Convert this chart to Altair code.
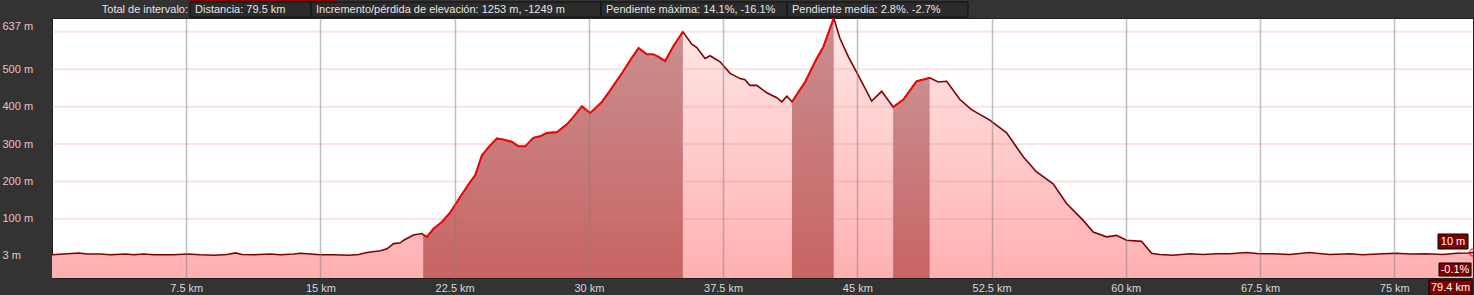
import altair as alt
import pandas as pd

# ---- data ----
km = [0.0, 0.66, 1.5, 1.97, 2.71, 3.27, 4.11, 4.57, 5.13, 5.69, 6.81, 7.55, 8.3, 9.04, 9.79,
      10.25, 10.62, 11.27, 12.2, 12.76, 13.51, 13.88, 14.44, 15.0, 15.74, 16.58, 17.14, 17.6,
      18.35, 18.72, 19.09, 19.46, 19.65, 20.2, 20.67, 20.74, 20.95, 21.32, 21.79, 22.26, 22.81,
      23.37, 23.65, 24.02, 24.4, 24.86, 25.23, 25.7, 26.07, 26.44, 26.9, 27.28, 27.65, 28.21,
      28.77, 29.14, 29.61, 30.07, 30.73, 31.19, 31.84, 32.31, 32.77, 33.24, 33.61, 33.89, 34.26,
      34.72, 35.25, 35.75, 36.03, 36.49, 36.77, 37.33, 37.89, 38.45, 38.72, 39.0, 39.38, 39.94,
      40.5, 40.78, 41.06, 41.35, 42.08, 42.73, 43.1, 43.68, 44.03, 44.5, 45.15, 45.8, 46.36,
      47.0, 47.57, 48.31, 49.04, 49.52, 49.99, 50.73, 51.38, 52.4, 53.34, 54.27, 55.0, 55.94,
      56.69, 57.62, 58.18, 58.92, 59.48, 60.04, 60.88, 61.44, 61.9, 62.64, 63.57, 64.32, 65.06,
      65.81, 66.74, 67.48, 68.22, 69.16, 70.27, 70.65, 71.39, 72.51, 73.25, 74.37, 75.11, 75.86,
      76.79, 77.72, 78.47, 79.11, 79.4]
elev = [4, 6, 9, 6, 6, 4, 6, 4, 6, 4, 4, 6, 4, 3, 5,
        9, 5, 4, 6, 4, 6, 8, 6, 4, 4, 3, 5, 10,
        15, 20, 34, 36, 43, 57, 61, 58, 52, 74, 92, 118, 159,
        199, 217, 270, 292, 315, 312, 306, 294, 294, 317, 321, 330, 332,
        353, 373, 401, 383, 413, 444, 489, 524, 557, 540, 540, 533, 522,
        562, 600, 567, 558, 529, 536, 520, 489, 475, 472, 457, 457, 437,
        424, 413, 428, 413, 466, 529, 560, 637, 582, 533, 475, 415, 441,
        399, 419, 468, 477, 466, 468, 419, 392, 364, 330, 266, 226, 194,
        141, 96, 65, 52, 56, 43, 40, 8, 5, 3, 7, 5, 7,
        7, 10, 7, 7, 5, 10, 8, 5, 7, 4, 7, 8, 6,
        7, 5, 8, 9, 10]

sel_start = [20.74, 41.35, 47.0]
sel_end = [35.25, 43.68, 49.04]

x_ticks = [7.5, 15, 22.5, 30, 37.5, 45, 52.5, 60, 67.5, 75]
y_labels = [3, 100, 200, 300, 400, 500, 637]
y_grid = [100, 200, 300, 400, 500, 600]

header_lead = "Total de intervalo:"
header_items = ["Distancia: 79.5 km",
                "Incremento/pérdida de elevación: 1253 m, -1249 m",
                "Pendiente máxima: 14.1%, -16.1%",
                "Pendiente media: 2.8%. -2.7%"]
cursor_elev = "10 m"
cursor_slope = "-0.1%"
cursor_km = "79.4 km"

Y_MIN, Y_MAX = -58, 637
X_MAX = 79.4
FONT = "Liberation Sans"

df = pd.DataFrame({"km": km, "elev": elev})
df["base"] = Y_MIN

rows = []
for i, (a, b) in enumerate(zip(sel_start, sel_end)):
    for k, e in zip(km, elev):
        if a - 1e-9 <= k <= b + 1e-9:
            rows.append({"km": k, "elev": e, "seg": i, "base": Y_MIN})
seg_df = pd.DataFrame(rows)

xs = alt.Scale(domain=[0, X_MAX], nice=False, zero=False)
ys = alt.Scale(domain=[Y_MIN, Y_MAX], nice=False, zero=False)

light_grad = alt.Gradient(gradient="linear", x1=0, y1=0, x2=0, y2=1,
                          stops=[alt.GradientStop(color="#ffe8e8", offset=0),
                                 alt.GradientStop(color="#ffb0b0", offset=1)])
dark_grad = alt.Gradient(gradient="linear", x1=0, y1=0, x2=0, y2=1,
                         stops=[alt.GradientStop(color="#c98e8e", offset=0),
                                alt.GradientStop(color="#c86464", offset=1)])

x_axis = alt.Axis(values=x_ticks, labelExpr="datum.value + ' km'", title=None,
                  grid=True, gridColor="#808080", gridOpacity=0.5, gridWidth=1.5,
                  ticks=False, domain=False, labelColor="#d8d8d8", labelFont=FONT,
                  labelFontSize=11, labelPadding=4, labelOverlap=False, zindex=1)
y_axis = alt.Axis(values=y_labels, labelExpr="datum.value + ' m'", title=None,
                  grid=False, ticks=False, domain=False, labelColor="#f2c0c0",
                  labelFont=FONT, labelFontSize=11, labelAlign="left", labelPadding=50,
                  labelBaseline={"condition": {"test": "datum.value == 637", "value": "top"},
                                 "value": "middle"},
                  labelOffset={"condition": {"test": "datum.value == 637", "value": 2},
                               "value": 0})

light_area = alt.Chart(df).mark_area(color=light_grad).encode(
    x=alt.X("km:Q", scale=xs, axis=x_axis),
    y=alt.Y("elev:Q", scale=ys, axis=y_axis),
    y2=alt.Y2("base:Q"),
)
dark_area = alt.Chart(seg_df).mark_area(color=dark_grad).encode(
    x=alt.X("km:Q", scale=xs), y=alt.Y("elev:Q", scale=ys), y2="base:Q",
    detail="seg:N",
)
grid_df = pd.DataFrame({"g": y_grid})
hgrid = alt.Chart(grid_df).mark_rule(color="#e67878", opacity=0.2, strokeWidth=2).encode(
    y=alt.Y("g:Q", scale=ys)
)
dark_line = alt.Chart(df).mark_line(color="#800000", strokeWidth=1.6).encode(
    x=alt.X("km:Q", scale=xs), y=alt.Y("elev:Q", scale=ys)
)
red_line = alt.Chart(seg_df).mark_line(color="#ff0000", strokeWidth=1.8).encode(
    x=alt.X("km:Q", scale=xs), y=alt.Y("elev:Q", scale=ys), detail="seg:N"
)
end_pt = alt.Chart(df.tail(1)).mark_point(color="#ff0000", size=50, strokeWidth=1.5,
                                          filled=False).encode(
    x=alt.X("km:Q", scale=xs), y=alt.Y("elev:Q", scale=ys)
)

one = pd.DataFrame({"t": [""]})


def box(x0, x1, y0, y1, text, fill, stroke, tcolor, align="left", tx=None):
    r = alt.Chart(one).mark_rect(fill=fill, stroke=stroke, strokeWidth=1).encode(
        x=alt.value(x0), x2=alt.value(x1), y=alt.value(y0), y2=alt.value(y1))
    t = alt.Chart(pd.DataFrame({"t": [text]})).mark_text(
        align=align, baseline="middle", font=FONT, fontSize=11, color=tcolor).encode(
        text="t:N", x=alt.value(tx if tx is not None else x0 + 5),
        y=alt.value((y0 + y1) / 2 + 0.5))
    return [r, t]


annots = []
# header (plot origin at x=52, y=18)
lead = alt.Chart(pd.DataFrame({"t": [header_lead]})).mark_text(
    align="right", baseline="middle", font=FONT, fontSize=11, color="#e6e6e6").encode(
    text="t:N", x=alt.value(136), y=alt.value(-8))
annots.append(lead)
red_bar = alt.Chart(one).mark_rect(fill="#8b0000").encode(
    x=alt.value(138), x2=alt.value(286), y=alt.value(-18), y2=alt.value(-16))
annots.append(red_bar)
bounds = [(138, 259), (259, 549), (549, 735), (735, 916)]
for (a, b), txt in zip(bounds, header_items):
    annots += box(a, b, -16, -1, txt, "#2b2b2b", "#111111", "#e6e6e6")
# cursor readouts
annots += box(1386, 1416, 216, 231, cursor_elev, "#800000", "#000000", "#ffffff",
              align="center", tx=1401)
annots += box(1387, 1419, 245, 258, cursor_slope, "#800000", "#000000", "#ffffff",
              align="center", tx=1403)
annots += box(1377, 1420, 262, 277, cursor_km, "#800000", "#000000", "#ffffff",
              align="center", tx=1398.5)

chart = alt.layer(light_area, dark_area, hgrid, dark_line, red_line, end_pt, *annots).properties(
    width=1421, height=260,
    padding={"left": 52, "top": 18, "right": 1, "bottom": 17},
    autosize="none", background="#333333",
).configure_view(fill="#ffffff", stroke="#1e1e1e", strokeWidth=1)

chart.save("out.html", embed_options={"renderer": "svg", "actions": False})
